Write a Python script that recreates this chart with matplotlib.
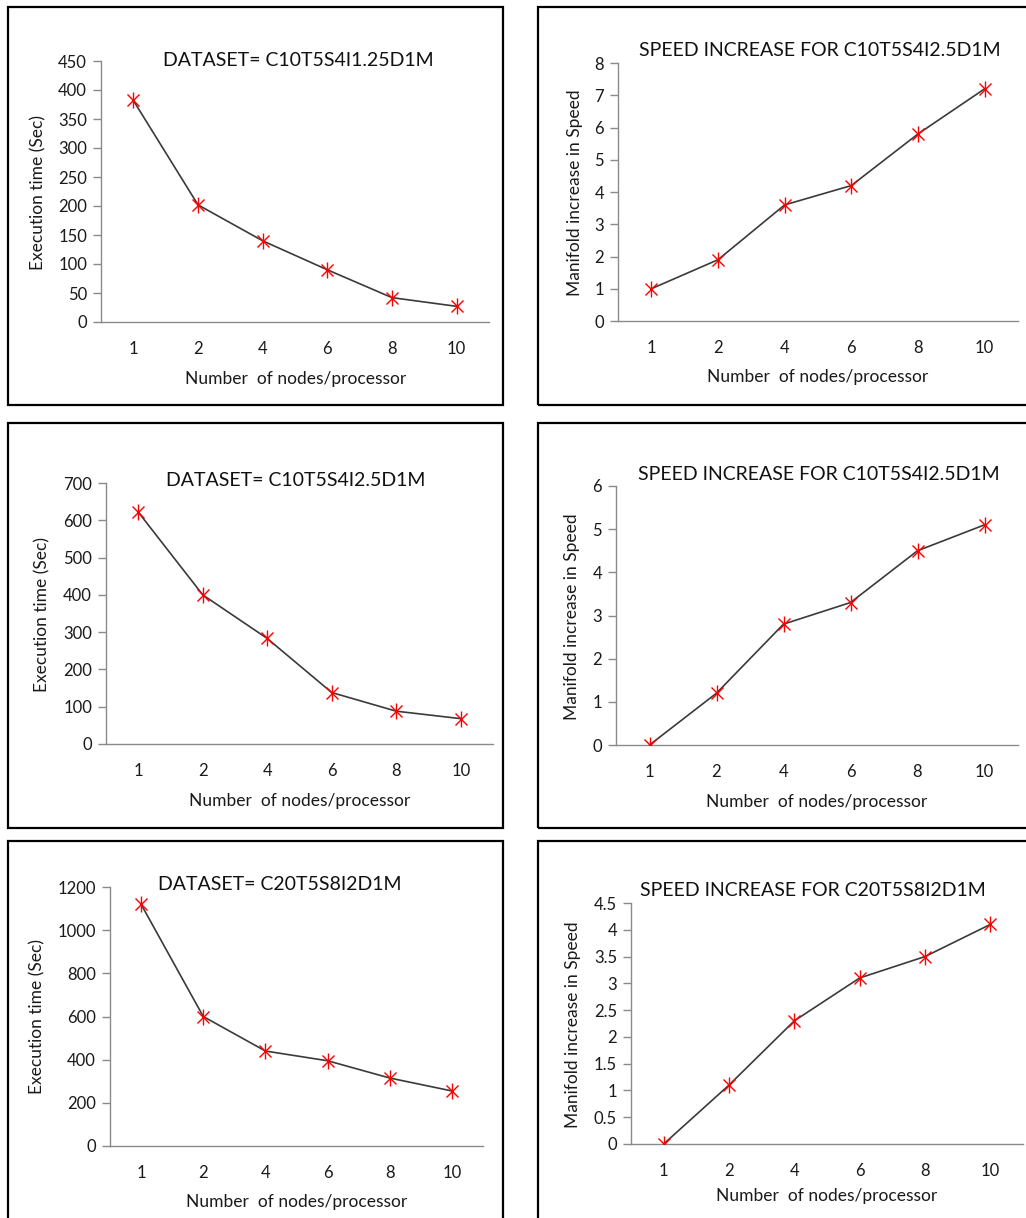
import numpy as np
import matplotlib.pyplot as plt
from matplotlib.patches import Rectangle

plt.rcParams['font.family'] = ['Lato', 'DejaVu Sans']

nodes = ["1", "2", "4", "6", "8", "10"]

time_c10_125 = [382, 202, 140, 90, 42, 27]
speed_c10_125 = [1.0, 1.9, 3.6, 4.2, 5.8, 7.2]
time_c10_25 = [622, 400, 283, 138, 88, 68]
speed_c10_25 = [0, 1.2, 2.8, 3.3, 4.5, 5.1]
time_c20 = [1120, 600, 440, 395, 315, 255]
speed_c20 = [0, 1.1, 2.3, 3.1, 3.5, 4.1]

W, H = 1026, 1218
fig = plt.figure(figsize=(W / 100, H / 100), dpi=100)
fig.set_facecolor("white")


def px_rect(l, t, r, b):
    return [l / W, 1 - b / H, (r - l) / W, (b - t) / H]


# frames around each chart
for (l, t, r, b) in [(8, 7, 503, 405), (538, 7, 1040, 405),
                     (8, 423, 503, 828), (538, 423, 1040, 828),
                     (8, 841, 503, 1240), (538, 841, 1040, 1240)]:
    fig.patches.append(Rectangle((l / W, 1 - b / H), (r - l) / W, (b - t) / H,
                                 transform=fig.transFigure, fill=False,
                                 edgecolor="black", lw=1.6))

panels = [
    dict(vals=time_c10_125, rect=(101, 61, 489, 322), ymax=450, step=50, fmt="{:.0f}",
         title="DATASET= C10T5S4I1.25D1M", tpos=(298, 60), tsize=14,
         ylabel="Execution time (Sec)", ylpos=(38, 193), xlpos=(296, 379)),
    dict(vals=speed_c10_125, rect=(618, 63, 1018, 321), ymax=8, step=1, fmt="{:.0f}",
         title="SPEED INCREASE FOR C10T5S4I2.5D1M", tpos=(820, 51), tsize=14,
         ylabel="Manifold increase in Speed", ylpos=(575, 193), xlpos=(818, 377)),
    dict(vals=time_c10_25, rect=(106, 483, 493, 744), ymax=700, step=100, fmt="{:.0f}",
         title="DATASET= C10T5S4I2.5D1M", tpos=(296, 481), tsize=14,
         ylabel="Execution time (Sec)", ylpos=(42, 615), xlpos=(300, 801)),
    dict(vals=speed_c10_25, rect=(616, 486, 1018, 745), ymax=6, step=1, fmt="{:.0f}",
         title="SPEED INCREASE FOR C10T5S4I2.5D1M", tpos=(819, 474), tsize=14,
         ylabel="Manifold increase in Speed", ylpos=(572, 617), xlpos=(817, 802)),
    dict(vals=time_c20, rect=(110, 887, 483, 1146), ymax=1200, step=200, fmt="{:.0f}",
         title="DATASET= C20T5S8I2D1M", tpos=(280, 885), tsize=14,
         ylabel="Execution time (Sec)", ylpos=(37, 1017), xlpos=(297, 1202)),
    dict(vals=speed_c20, rect=(631, 903, 1023, 1144), ymax=4.5, step=0.5, fmt="{:g}",
         title="SPEED INCREASE FOR C20T5S8I2D1M", tpos=(813, 891), tsize=14,
         ylabel="Manifold increase in Speed", ylpos=(573, 1025), xlpos=(827, 1196)),
]

axis_col = "#8a8a8a"
for p in panels:
    ax = fig.add_axes(px_rect(*p["rect"]))
    x = np.arange(len(nodes))
    ax.plot(x, p["vals"], color="#3a3a3a", lw=1.2, zorder=2)
    ax.plot(x, p["vals"], ls="none", marker="x", ms=9, mew=1.0, color="red", zorder=3)
    ax.plot(x, p["vals"], ls="none", marker="|", ms=12, mew=1.0, color="red", zorder=3)
    ax.set_xlim(-0.5, len(nodes) - 0.5)
    ax.set_ylim(0, p["ymax"])
    ticks = np.arange(0, p["ymax"] + p["step"] / 2, p["step"])
    ax.set_yticks(ticks)
    ax.set_yticklabels([p["fmt"].format(t) for t in ticks])
    ax.set_xticks(x)
    ax.set_xticklabels(nodes)
    for s in ["top", "right"]:
        ax.spines[s].set_visible(False)
    for s in ["left", "bottom"]:
        ax.spines[s].set_color(axis_col)
        ax.spines[s].set_linewidth(1.0)
    ax.tick_params(axis="y", length=6, width=1.0, color=axis_col, labelsize=12,
                   pad=4, labelcolor="#1a1a1a")
    ax.tick_params(axis="x", length=0, labelsize=12, pad=14, labelcolor="#1a1a1a")
    ax.patch.set_alpha(0)
    for sp in ax.spines.values():
        sp.set_clip_on(False)

    fig.text(p["tpos"][0] / W, 1 - p["tpos"][1] / H, p["title"], ha="center",
             va="center", fontsize=p["tsize"], color="#111111")
    fig.text(p["ylpos"][0] / W, 1 - p["ylpos"][1] / H, p["ylabel"], ha="center",
             va="center", rotation=90, fontsize=12.5, color="#1a1a1a")
    fig.text(p["xlpos"][0] / W, 1 - p["xlpos"][1] / H, "Number  of nodes/processor",
             ha="center", va="center", fontsize=12.5, color="#1a1a1a")

plt.savefig("out.png", dpi=100, facecolor="white")
